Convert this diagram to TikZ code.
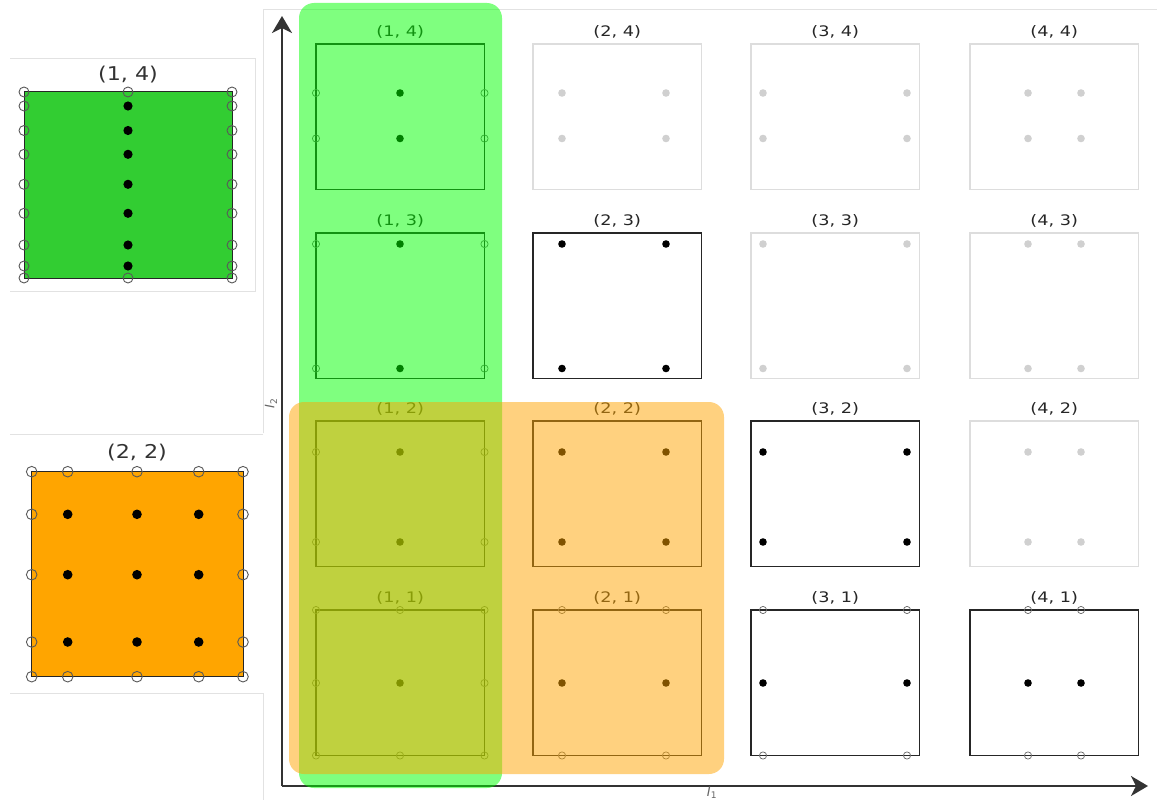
\documentclass[tikz,border=0pt]{standalone}
\usepackage{graphicx}
\usepackage{fontspec}
\setmainfont{DejaVu Sans}
\usetikzlibrary{arrows.meta}
\definecolor{framegray}{HTML}{E2E2E2}
\definecolor{offgray}{HTML}{DDDDDD}
\definecolor{dotgray}{HTML}{D0D0D0}
\definecolor{limeg}{HTML}{00FF00}
\definecolor{orng}{HTML}{FFA500}
\definecolor{lgreen}{HTML}{32CD32}
\tikzset{
  pframe/.style={draw=framegray, line width=0.8pt},
  actbox/.style={draw=black!85, line width=1.1pt},
  offbox/.style={draw=offgray, line width=1.1pt},
  actdot/.style={fill=black},
  offdot/.style={fill=dotgray},
  opendot/.style={draw=black!60, line width=0.7pt},
  bigopen/.style={draw=black!65, line width=0.9pt},
  mttl/.style={font=\fontsize{14.5}{17}\selectfont, text=black!85, inner sep=0pt},
  bttl/.style={font=\fontsize{19}{23}\selectfont, text=black!80, inner sep=0pt},
  axlbl/.style={font=\fontsize{13}{15}\selectfont, text=black!60, inner sep=0pt},
  axisline/.style={draw=black!80, line width=2pt, -{Stealth[length=17pt,width=20pt,inset=5pt]}},
  hlgreen/.style={fill=limeg, fill opacity=0.5, rounded corners=15pt},
  hlorange/.style={fill=orng, fill opacity=0.5, rounded corners=15pt}
}
\newcommand\wtext[2]{\scalebox{#1}[1]{#2}}
% #1 name, #2 title, #3 left, #4 top, #5 x-list, #6 y-list, #7 act/off
\newcommand\drawcell[7]{%
  \draw[#7box] (#3,#4) rectangle ++(168.5,145.5);
  \node[mttl] (#1) at ({#3+84.25},{#4-12.5}) {\wtext{1.22}{#2}};
  \foreach \xx in {#5}{\foreach \yy in {#6}{\fill[#7dot] (\xx,\yy) circle[radius=3.8pt];}}
}
\begin{document}
\begin{tikzpicture}[x=1pt,y=-1pt]
\useasboundingbox (0,0) rectangle (1157,800);
\fill[white] (0,0) rectangle (1157,800);

% panel frames
\draw[pframe] (263,433) -- (263,9) -- (1157,9);
\draw[pframe] (263,693) -- (263,800);
\draw[pframe] (10,58) -- (255,58) -- (255,291) -- (10,291);
\draw[pframe] (10,434) -- (263,434);
\draw[pframe] (10,693) -- (263,693);

% ---- left panel (1,4)
\fill[lgreen] (24,92) rectangle (232,278);
\draw[black!85, line width=1pt] (24,92) rectangle (232,278);
\node[bttl] (lt14) at (128,75) {\wtext{1.17}{(1, 4)}};
\foreach \yy in {92,106,130.5,154.3,184.3,213.3,245,266,278}{
  \draw[bigopen] (24,\yy) circle[radius=5pt];
  \draw[bigopen] (232,\yy) circle[radius=5pt];
}
\draw[bigopen] (128,92) circle[radius=5pt];
\draw[bigopen] (128,278) circle[radius=5pt];
\foreach \yy in {106,130.5,154.3,184.3,213.3,245,266}{
  \fill[black] (128,\yy) circle[radius=4.6pt];
}

% ---- left panel (2,2)
\fill[orng] (31.7,471.7) rectangle (243,676.7);
\draw[black!85, line width=1pt] (31.7,471.7) rectangle (243,676.7);
\node[bttl] (lt22) at (137,452.5) {\wtext{1.17}{(2, 2)}};
\foreach \xx in {31.7,67.7,137,198.7,243}{
  \draw[bigopen] (\xx,471.7) circle[radius=5.3pt];
  \draw[bigopen] (\xx,676.7) circle[radius=5.3pt];
}
\foreach \yy in {514.3,574.7,642}{
  \draw[bigopen] (31.7,\yy) circle[radius=5.3pt];
  \draw[bigopen] (243,\yy) circle[radius=5.3pt];
  \foreach \xx in {67.7,137,198.7}{\fill[black] (\xx,\yy) circle[radius=4.8pt];}
}

% ---- main grid
% row 4
\drawcell{t14}{(1, 4)}{316}{44}{400}{93,138.5}{act}
\drawcell{t24}{(2, 4)}{533}{44}{562,666}{93,138.5}{off}
\drawcell{t34}{(3, 4)}{751}{44}{763,907}{93,138.5}{off}
\drawcell{t44}{(4, 4)}{970}{44}{1028,1081}{93,138.5}{off}
% row 3
\drawcell{t13}{(1, 3)}{316}{233}{400}{244,368.5}{act}
\drawcell{t23}{(2, 3)}{533}{233}{562,666}{244,368.5}{act}
\drawcell{t33}{(3, 3)}{751}{233}{763,907}{244,368.5}{off}
\drawcell{t43}{(4, 3)}{970}{233}{1028,1081}{244,368.5}{off}
% row 2
\drawcell{t12}{(1, 2)}{316}{421}{400}{452,542}{act}
\drawcell{t22}{(2, 2)}{533}{421}{562,666}{452,542}{act}
\drawcell{t32}{(3, 2)}{751}{421}{763,907}{452,542}{act}
\drawcell{t42}{(4, 2)}{970}{421}{1028,1081}{452,542}{off}
% row 1
\drawcell{t11}{(1, 1)}{316}{610}{400}{683}{act}
\drawcell{t21}{(2, 1)}{533}{610}{562,666}{683}{act}
\drawcell{t31}{(3, 1)}{751}{610}{763,907}{683}{act}
\drawcell{t41}{(4, 1)}{970}{610}{1028,1081}{683}{act}

% open boundary circles, column 1
\foreach \yy in {93,138.5,244,368.5,452,542,610,683,755.5}{
  \draw[opendot] (316,\yy) circle[radius=3.6pt];
  \draw[opendot] (484.5,\yy) circle[radius=3.6pt];
}
% open boundary circles, row 1
\foreach \xx in {400,562,666,763,907,1028,1081}{
  \draw[opendot] (\xx,610) circle[radius=3.6pt];
  \draw[opendot] (\xx,755.5) circle[radius=3.6pt];
}

% axes
\coordinate (O) at (282,786);
\coordinate (ytip) at (282,16);
\coordinate (xtip) at (1148,786);
\draw[axisline] (O) -- (ytip);
\draw[axisline] (O) -- (xtip);
\node[axlbl, rotate=90] (lblI2) at (271,403) {\textit{I}\textsubscript{2}};
\node[axlbl, anchor=base] (lblI1) at (712,796) {\textit{I}\textsubscript{1}};

% highlights
\fill[hlgreen] (299,3) rectangle (502,788);
\fill[hlorange] (289,402) rectangle (724,774);
\end{tikzpicture}
\end{document}
